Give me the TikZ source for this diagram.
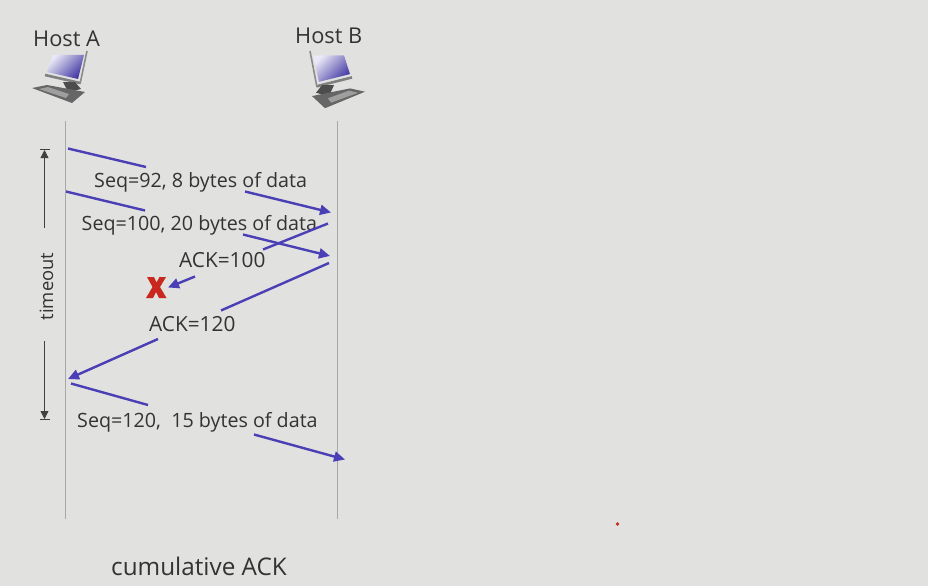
\documentclass[tikz,border=0pt]{standalone}
\usepackage{fontspec}
\setmainfont{Open Sans}
\usetikzlibrary{arrows.meta}
\definecolor{bgc}{HTML}{E1E1E0}
\definecolor{msg}{HTML}{4A3FB5}
\definecolor{txt}{HTML}{333333}
\definecolor{rail}{HTML}{A8A8A8}
\definecolor{xred}{HTML}{C8281E}
\tikzset{
 lab/.style={text=txt,font=\fontsize{19.7}{20}\selectfont,inner sep=0pt,anchor=base west},
 acklab/.style={text=txt,font=\fontsize{20.8}{22}\selectfont,inner sep=0pt,anchor=base west},
 hostlab/.style={text=txt,font=\fontsize{21.8}{24}\selectfont,inner sep=0pt,anchor=base west},
 rail line/.style={draw=rail,line width=1pt},
 msgline/.style={draw=msg,line width=2.4pt},
 msgarrow/.style={draw=msg,line width=2.4pt,-{Triangle[length=11pt,width=10pt]}},
 timer/.style={draw=black!75,line width=0.8pt},
}
\newcommand{\hostpc}[3]{% position, xscale, yscale
\begin{scope}[shift={#1},xscale=#2,yscale=#3]
 \shade[left color=white!88!msg,right color=msg!90!black,shading angle=45] (-7,4) -- (24,4) -- (18,28) -- (-13,21) -- cycle;
 \draw[black!45,line width=1.6pt] (27,0) -- (20,33);
 \draw[black!50,line width=2.6pt] (-15,24) -- (20,32);
 \fill[black!70] (3,31) -- (15,31) -- (21,38) -- (8,41) -- cycle;
 \fill[black!60] (-28,37) -- (-13,34) -- (25,41) -- (12,52) -- cycle;
 \fill[black!38] (-21,38) -- (-12,36) -- (9,43) -- (6,47) -- cycle;
\end{scope}}
\begin{document}
\begin{tikzpicture}[x=1pt,y=-1pt]
\useasboundingbox (0,0) rectangle (928,586);
\fill[bgc] (0,0) rectangle (928,586);
% hosts
\node[hostlab] (hostA) at (33,46) {Host A};
\node[hostlab] (hostB) at (295,44) {Host B};
\hostpc{(60,51)}{1}{1}
\hostpc{(337,51)}{-1}{1.1}
% rails
\coordinate (aTop) at (65.5,121); \coordinate (aBot) at (65.5,519);
\coordinate (bTop) at (337,121); \coordinate (bBot) at (337,519);
\draw[rail line] (aTop) -- (aBot);
\draw[rail line] (bTop) -- (bBot);
% labels
\node[lab] (s92) at (94,187) {Seq=92, 8 bytes of data};
\node[lab] (s100) at (81.5,230) {Seq=100, 20 bytes of data};
\node[acklab] (a100) at (179,267.5) {ACK=100};
\node[acklab] (a120) at (149,331) {ACK=120};
\node[lab] (s120) at (77,427) {Seq=120,\ \ 15 bytes of data};
\node[text=txt,font=\fontsize{24.3}{26}\selectfont,inner sep=0pt,anchor=base west] (cum) at (111,575) {cumulative ACK};
% timeout
\node[text=txt,font=\fontsize{18.4}{20}\selectfont,inner sep=0pt,rotate=90] (timeout) at (46.5,286.5) {timeout};
\coordinate (t1) at (44.5,228); \coordinate (t2) at (44.5,150);
\coordinate (t3) at (44.5,341); \coordinate (t4) at (44.5,419);
\draw[timer,-{Triangle[length=8pt,width=8pt]}] (t1) -- (t2);
\draw[timer,-{Triangle[length=8pt,width=8pt]}] (t3) -- (t4);
\draw[timer] (39.5,149.5) -- (49.5,149.5);
\draw[timer] (39.5,419.5) -- (49.5,419.5);
% message lines
\coordinate (m1a) at (68,148.5); \coordinate (m1b) at (146,167);
\coordinate (m1c) at (245,191.5); \coordinate (m1d) at (331,212.5);
\coordinate (m2a) at (66,191.5); \coordinate (m2b) at (145,210.5);
\coordinate (m2c) at (243,234.5); \coordinate (m2d) at (330,256);
\coordinate (m3a) at (328,223.5); \coordinate (m3b) at (263,249.5);
\coordinate (m3c) at (195,276.5); \coordinate (m3d) at (168,287.5);
\coordinate (m4a) at (329,263); \coordinate (m4b) at (221,310.5);
\coordinate (m4c) at (158,339); \coordinate (m4d) at (68,379);
\coordinate (m5a) at (71,383.5); \coordinate (m5b) at (148,405);
\coordinate (m5c) at (254,434.5); \coordinate (m5d) at (345,459.5);
\draw[msgline] (m1a) -- (m1b);
\draw[msgarrow] (m1c) -- (m1d);
\draw[msgline] (m2a) -- (m2b);
\draw[msgarrow] (m2c) -- (m2d);
\draw[msgline] (m3a) -- (m3b);
\draw[msgarrow] (m3c) -- (m3d);
\draw[msgline] (m4a) -- (m4b);
\draw[msgarrow] (m4c) -- (m4d);
\draw[msgline] (m5a) -- (m5b);
\draw[msgarrow] (m5c) -- (m5d);
% red X
\fill[xred] (147,277) -- (154,277) -- (156.5,282.5) -- (159.5,277) -- (166,277) -- (160,287) -- (166.5,298) -- (159,298) -- (156,292) -- (153,298) -- (146,298) -- (152.5,287) -- cycle;
% dot
\fill[xred] (617.5,524) circle (1.8);
\end{tikzpicture}
\end{document}
